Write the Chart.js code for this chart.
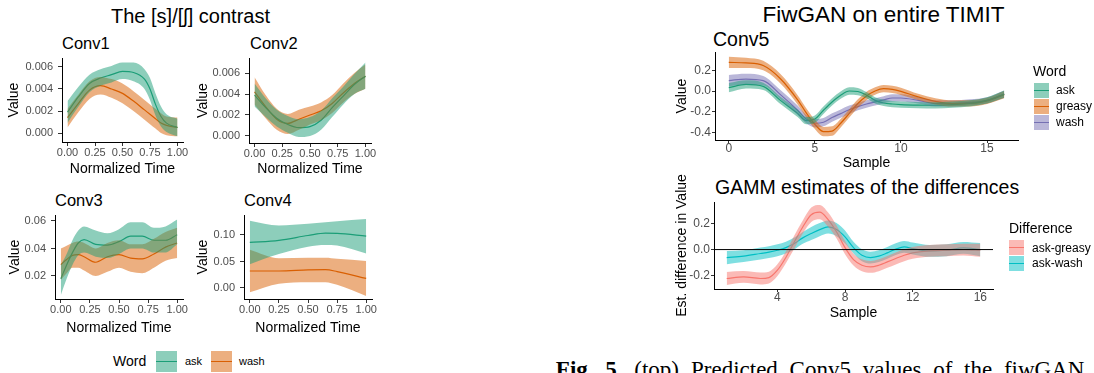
<!DOCTYPE html>
<html>
<head>
<meta charset="utf-8">
<title>Conv layer values</title>
<script src="https://cdn.jsdelivr.net/npm/chart.js@4.4.1/dist/chart.umd.min.js"></script>
<style>
  html, body { margin: 0; padding: 0; background: #fff; }
  #fig { position: relative; width: 1094px; height: 373px; overflow: hidden;
         font-family: "Liberation Sans", Arial, sans-serif; }
  .txt { position: absolute; white-space: nowrap; line-height: 1; color: #000; }
  .key { position: absolute; }
  .key i { position: absolute; left: 0; right: 0; top: 50%; height: 1.5px; margin-top: -0.75px; }
  canvas { position: absolute; }
  .cap { position: absolute; white-space: nowrap; line-height: 1; color: #000;
         font-family: "Liberation Serif", "Times New Roman", serif; font-size: 23px; word-spacing: 6px; }
</style>
</head>
<body>
<div id="fig"></div>
<script>
const FONT = '"Liberation Sans", Arial, sans-serif';
const GREEN = '#1B9E77', ORANGE = '#D95F02', PURPLE = '#7570B3';
const RED = '#F8766D', CYAN = '#00BFC4';

// ---- values ----
const unitTicks = [0, 0.25, 0.5, 0.75, 1];

const conv1Time = [0, 0.1, 0.2, 0.3, 0.4, 0.5, 0.6, 0.7, 0.75, 0.8, 0.85, 0.9, 1];
const conv1AskMean = [0.0019, 0.0033, 0.0045, 0.0050, 0.0053, 0.0056, 0.0055, 0.0049, 0.0040, 0.0026, 0.0015, 0.0009, 0.0005];
const conv1AskLo = [0.0009, 0.0024, 0.0037, 0.0043, 0.0046, 0.0049, 0.0047, 0.0040, 0.0030, 0.0016, 0.0006, 0.0001, -0.0003];
const conv1AskHi = [0.0029, 0.0042, 0.0053, 0.0058, 0.0061, 0.0064, 0.0064, 0.0058, 0.0050, 0.0036, 0.0024, 0.0017, 0.0013];
const conv1WashMean = [0.0014, 0.0027, 0.0039, 0.0043, 0.0040, 0.0036, 0.0029, 0.0021, 0.0017, 0.0013, 0.0009, 0.0007, 0.0005];
const conv1WashLo = [0.0005, 0.0019, 0.0031, 0.0035, 0.0032, 0.0027, 0.0020, 0.0012, 0.0008, 0.0004, 0.0000, -0.0002, -0.0003];
const conv1WashHi = [0.0022, 0.0035, 0.0047, 0.0051, 0.0049, 0.0045, 0.0038, 0.0030, 0.0026, 0.0022, 0.0018, 0.0015, 0.0014];
const conv1YTicks = [0, 0.002, 0.004, 0.006];

const conv2Time = [0, 0.1, 0.2, 0.3, 0.4, 0.5, 0.6, 0.7, 0.8, 0.9, 1];
const conv2AskMean = [0.0039, 0.0027, 0.0017, 0.0011, 0.0008, 0.0009, 0.0015, 0.0027, 0.0038, 0.0049, 0.0057];
const conv2AskLo = [0.0028, 0.0018, 0.0009, 0.0003, -0.0001, 0.0000, 0.0006, 0.0018, 0.0030, 0.0040, 0.0045];
const conv2AskHi = [0.0050, 0.0036, 0.0025, 0.0019, 0.0016, 0.0018, 0.0024, 0.0036, 0.0047, 0.0059, 0.0070];
const conv2WashMean = [0.0042, 0.0028, 0.0016, 0.0012, 0.0016, 0.0020, 0.0024, 0.0031, 0.0041, 0.0050, 0.0057];
const conv2WashLo = [0.0030, 0.0017, 0.0006, 0.0002, 0.0006, 0.0011, 0.0015, 0.0022, 0.0032, 0.0040, 0.0045];
const conv2WashHi = [0.0056, 0.0039, 0.0026, 0.0021, 0.0025, 0.0028, 0.0032, 0.0039, 0.0050, 0.0060, 0.0068];
const conv2YTicks = [0, 0.002, 0.004, 0.006];

const conv3Time = [0, 0.05, 0.1, 0.15, 0.2, 0.3, 0.4, 0.5, 0.6, 0.7, 0.8, 0.9, 1];
const conv3AskMean = [0.018, 0.028, 0.037, 0.044, 0.0465, 0.043, 0.0425, 0.045, 0.049, 0.049, 0.046, 0.046, 0.050];
const conv3AskLo = [0.006, 0.018, 0.028, 0.035, 0.037, 0.034, 0.033, 0.036, 0.040, 0.040, 0.037, 0.037, 0.043];
const conv3AskHi = [0.028, 0.036, 0.046, 0.053, 0.056, 0.053, 0.051, 0.054, 0.059, 0.059, 0.055, 0.056, 0.061];
const conv3WashMean = [0.0283, 0.032, 0.035, 0.0355, 0.034, 0.030, 0.034, 0.0355, 0.033, 0.0325, 0.036, 0.041, 0.044];
const conv3WashLo = [0.017, 0.022, 0.026, 0.026, 0.024, 0.020, 0.023, 0.026, 0.023, 0.022, 0.026, 0.031, 0.033];
const conv3WashHi = [0.040, 0.042, 0.044, 0.045, 0.044, 0.040, 0.044, 0.046, 0.043, 0.043, 0.047, 0.052, 0.055];
const conv3YTicks = [0.02, 0.04, 0.06];

const conv4Time = [0, 0.25, 0.5, 0.65, 0.75, 1];
const conv4AskMean = [0.086, 0.090, 0.099, 0.1035, 0.103, 0.098];
const conv4AskLo = [0.045, 0.064, 0.078, 0.081, 0.080, 0.065];
const conv4AskHi = [0.127, 0.118, 0.121, 0.124, 0.126, 0.130];
const conv4WashMean = [0.032, 0.032, 0.034, 0.0345, 0.031, 0.018];
const conv4WashLo = [-0.008, 0.008, 0.011, 0.011, 0.006, -0.015];
const conv4WashHi = [0.072, 0.056, 0.057, 0.057, 0.055, 0.051];
const conv4YTicks = [0, 0.05, 0.10];

const conv5Sample = [0, 1, 2, 3, 4, 4.5, 5, 5.5, 6, 6.5, 7, 7.5, 8, 8.5, 9, 9.5, 10, 11, 12, 13, 14, 15, 16];
const conv5AskMean = [0.032, 0.064, 0.045, -0.09, -0.215, -0.285, -0.27, -0.185, -0.105, -0.04, 0.0, -0.005, -0.04, -0.09, -0.115, -0.125, -0.13, -0.135, -0.137, -0.13, -0.12, -0.09, -0.03];
const conv5AskCi = [0.045, 0.04, 0.035, 0.035, 0.035, 0.035, 0.035, 0.035, 0.035, 0.035, 0.035, 0.035, 0.03, 0.03, 0.03, 0.03, 0.03, 0.03, 0.03, 0.03, 0.03, 0.03, 0.035];
const conv5GreasyMean = [0.275, 0.27, 0.245, 0.118, -0.085, -0.21, -0.32, -0.39, -0.385, -0.31, -0.215, -0.12, -0.048, 0.0, 0.022, 0.016, -0.003, -0.057, -0.099, -0.12, -0.12, -0.096, -0.035];
const conv5GreasyCi = [0.055, 0.05, 0.045, 0.045, 0.045, 0.045, 0.045, 0.045, 0.045, 0.04, 0.04, 0.04, 0.04, 0.035, 0.035, 0.035, 0.035, 0.03, 0.03, 0.03, 0.03, 0.03, 0.035];
const conv5WashMean = [0.10, 0.115, 0.10, -0.035, -0.185, -0.27, -0.31, -0.30, -0.255, -0.217, -0.18, -0.15, -0.125, -0.105, -0.085, -0.067, -0.067, -0.09, -0.12, -0.12, -0.11, -0.09, -0.03];
const conv5WashCi = [0.055, 0.05, 0.045, 0.045, 0.045, 0.04, 0.04, 0.04, 0.04, 0.04, 0.04, 0.035, 0.035, 0.035, 0.035, 0.035, 0.035, 0.03, 0.03, 0.03, 0.03, 0.03, 0.035];
const conv5XTicks = [0, 5, 10, 15];
const conv5YTicks = [-0.4, -0.2, 0, 0.2];

const gammSample = [1, 2, 3, 3.5, 4, 4.5, 5, 5.5, 6, 6.5, 7, 7.5, 8, 8.5, 9, 9.5, 10, 10.5, 11, 11.5, 12, 13, 14, 15, 16];
const gammAskGreasyMean = [-0.22, -0.208, -0.22, -0.213, -0.157, -0.06, 0.058, 0.172, 0.265, 0.285, 0.228, 0.134, 0.015, -0.076, -0.119, -0.132, -0.119, -0.094, -0.068, -0.043, -0.025, -0.01, -0.005, 0.0, -0.005];
const gammAskGreasyCi = [0.05, 0.045, 0.045, 0.045, 0.045, 0.045, 0.05, 0.05, 0.055, 0.055, 0.055, 0.05, 0.05, 0.045, 0.045, 0.045, 0.045, 0.045, 0.045, 0.045, 0.045, 0.045, 0.045, 0.045, 0.05];
const gammAskWashMean = [-0.061, -0.05, -0.03, -0.02, -0.005, 0.015, 0.046, 0.089, 0.122, 0.152, 0.172, 0.152, 0.096, 0.015, -0.043, -0.061, -0.05, -0.025, 0.003, 0.02, 0.008, -0.01, -0.005, 0.013, 0.0];
const gammAskWashCi = [0.05, 0.045, 0.045, 0.045, 0.045, 0.045, 0.045, 0.045, 0.05, 0.05, 0.05, 0.05, 0.05, 0.045, 0.045, 0.045, 0.045, 0.045, 0.045, 0.045, 0.045, 0.045, 0.045, 0.045, 0.05];
const gammXTicks = [4, 8, 12, 16];
const gammYTicks = [-0.2, 0, 0.2];

// ---- helpers ----
const fig = document.getElementById('fig');

function rgba(hex, a) {
  const n = parseInt(hex.slice(1), 16);
  return `rgba(${n >> 16},${(n >> 8) & 255},${n & 255},${a})`;
}

function pts(xs, ys) {
  return xs.map((x, i) => ({ x, y: ys[i] }));
}

// estimate +/- confidence half-width
function band(mean, ci) {
  return { lo: mean.map((m, i) => m - ci[i]), hi: mean.map((m, i) => m + ci[i]) };
}

function addText(str, x, baseline, size, center) {
  const d = document.createElement('div');
  d.className = 'txt';
  d.textContent = str;
  d.style.fontSize = size + 'px';
  d.style.top = (baseline - 0.8465 * size) + 'px';
  d.style.left = x + 'px';
  if (center) d.style.transform = 'translateX(-50%)';
  fig.appendChild(d);
}

function addKey(x, y, w, h, color) {
  const k = document.createElement('div');
  k.className = 'key';
  Object.assign(k.style, { left: x + 'px', top: y + 'px', width: w + 'px', height: h + 'px',
                           background: rgba(color, 0.5) });
  const line = document.createElement('i');
  line.style.background = color;
  k.appendChild(line);
  fig.appendChild(k);
}

function axisOpts(o) {
  return {
    type: 'linear', min: o.min, max: o.max,
    afterBuildTicks: s => { s.ticks = o.ticks.map(v => ({ value: v })); },
    afterFit: s => { if (o.isX) s.height = o.size; else s.width = o.size; },
    ticks: {
      autoSkip: false, maxRotation: 0, padding: o.pad, color: '#4D4D4D',
      font: { family: FONT, size: o.tickSize, lineHeight: 1 },
      callback: v => o.fmt(v)
    },
    grid: { drawOnChartArea: false, drawTicks: true, tickLength: o.tl, color: '#333333', lineWidth: 1 },
    border: { display: true, color: '#000000', width: 1 },
    title: { display: true, text: o.title, color: '#000000', padding: 0,
             font: { family: FONT, size: o.titleSize, lineHeight: 1 } }
  };
}

// p.area = [left, right, top, bottom] of the plotting area in page pixels
function panel(p) {
  const [L, R, T, B] = p.area;
  const padTop = p.padTop || 12, padR = 16;
  const left = Math.round(p.yTitleX - p.titleSize / 2);
  const top = T - padTop;
  const bottom = Math.round(p.xTitleY + p.titleSize / 2);
  const w = R - left + padR, h = bottom - top;

  const cv = document.createElement('canvas');
  cv.width = w; cv.height = h;
  Object.assign(cv.style, { left: left + 'px', top: top + 'px', width: w + 'px', height: h + 'px' });
  fig.appendChild(cv);

  const datasets = [];
  if (p.hline !== undefined) {
    datasets.push({ data: [{ x: p.xMin, y: p.hline }, { x: p.xMax, y: p.hline }],
                    borderColor: '#000', borderWidth: 1, pointRadius: 0, fill: false });
  }
  p.series.forEach(s => {
    datasets.push(
      { data: pts(p.x, s.hi), fill: '+1', backgroundColor: rgba(s.color, 0.5),
        borderColor: 'rgba(0,0,0,0)', borderWidth: 0, pointRadius: 0, cubicInterpolationMode: 'monotone' },
      { data: pts(p.x, s.lo), fill: false,
        borderColor: 'rgba(0,0,0,0)', borderWidth: 0, pointRadius: 0, cubicInterpolationMode: 'monotone' }
    );
  });
  // lines sit under the ribbons, as in the original
  p.series.forEach(s => {
    datasets.push({ data: pts(p.x, s.mean), borderColor: s.color, borderWidth: 1.2, pointRadius: 0,
                    fill: false, cubicInterpolationMode: 'monotone' });
  });

  new Chart(cv, {
    type: 'line',
    data: { datasets },
    options: {
      responsive: false, animation: false, events: [],
      layout: { padding: { top: padTop, right: padR, left: 0, bottom: 0 } },
      plugins: { legend: { display: false }, tooltip: { enabled: false } },
      scales: {
        x: axisOpts({ isX: true, min: p.xMin, max: p.xMax, ticks: p.xTicks, fmt: p.xFmt,
                      size: bottom - B, pad: p.xPad, tl: p.tl, tickSize: p.tickSize,
                      title: p.xTitle, titleSize: p.titleSize }),
        y: axisOpts({ isX: false, min: p.yMin, max: p.yMax, ticks: p.yTicks, fmt: p.yFmt,
                      size: L - left, pad: p.yPad, tl: p.tl, tickSize: p.tickSize,
                      title: p.yTitle, titleSize: p.titleSize })
      }
    }
  });
}

const f2 = v => v.toFixed(2), f3 = v => v.toFixed(3), f1 = v => v.toFixed(1), f0 = v => String(v);
const leftStyle = { xMin: -0.05, xMax: 1.05, xTicks: unitTicks, xFmt: f2, tickSize: 11, titleSize: 14,
                    tl: 4, xPad: 1, yPad: 5, xTitle: 'Normalized Time', yTitle: 'Value' };
const rightStyle = { tickSize: 12, titleSize: 14, tl: 3, xPad: 0, yPad: 1, xTitle: 'Sample' };

// ---- left figure ----
addText('The [s]/[\u0283] contrast', 190.5, 23, 20, true);
addText('Conv1', 62, 49, 16.5);
addText('Conv2', 250, 49, 16.5);
addText('Conv3', 55, 206, 16.5);
addText('Conv4', 244, 206, 16.5);

panel(Object.assign({}, leftStyle, {
  area: [62, 183, 58, 142], yTitleX: 14, xTitleY: 169,
  yMin: -0.000818, yMax: 0.006818, yTicks: conv1YTicks, yFmt: f3, x: conv1Time,
  series: [
    { mean: conv1AskMean, lo: conv1AskLo, hi: conv1AskHi, color: GREEN },
    { mean: conv1WashMean, lo: conv1WashLo, hi: conv1WashHi, color: ORANGE }
  ]
}));

panel(Object.assign({}, leftStyle, {
  area: [249, 371, 58, 143], yTitleX: 203, xTitleY: 169,
  yMin: -0.000667, yMax: 0.007429, yTicks: conv2YTicks, yFmt: f3, x: conv2Time,
  series: [
    { mean: conv2AskMean, lo: conv2AskLo, hi: conv2AskHi, color: GREEN },
    { mean: conv2WashMean, lo: conv2WashLo, hi: conv2WashHi, color: ORANGE }
  ]
}));

panel(Object.assign({}, leftStyle, {
  area: [55, 183, 215, 299], yTitleX: 15, xTitleY: 327.5,
  yMin: 0.00327, yMax: 0.06436, yTicks: conv3YTicks, yFmt: f2, x: conv3Time,
  series: [
    { mean: conv3AskMean, lo: conv3AskLo, hi: conv3AskHi, color: GREEN },
    { mean: conv3WashMean, lo: conv3WashLo, hi: conv3WashHi, color: ORANGE }
  ]
}));

panel(Object.assign({}, leftStyle, {
  area: [244, 372, 215, 299], yTitleX: 202.5, xTitleY: 327.5,
  yMin: -0.0208, yMax: 0.1377, yTicks: conv4YTicks, yFmt: f2, x: conv4Time,
  series: [
    { mean: conv4AskMean, lo: conv4AskLo, hi: conv4AskHi, color: GREEN },
    { mean: conv4WashMean, lo: conv4WashLo, hi: conv4WashHi, color: ORANGE }
  ]
}));

addText('Word', 113, 366, 14);
addKey(156, 351, 21, 21, GREEN);
addText('ask', 185, 365, 11);
addKey(211, 351, 21, 21, ORANGE);
addText('wash', 239, 365, 11);

// ---- right figure ----
addText('FiwGAN on entire TIMIT', 883.5, 23, 22.5, true);
addText('Conv5', 713, 47, 19.5);
addText('GAMM estimates of the differences', 715, 195, 19.5);

panel(Object.assign({}, rightStyle, {
  area: [715, 1018, 52, 140], yTitleX: 682, xTitleY: 163, yTitle: 'Value',
  xMin: -0.8, xMax: 16.8, xTicks: conv5XTicks, xFmt: f0,
  yMin: -0.471, yMax: 0.375, yTicks: conv5YTicks, yFmt: f1, x: conv5Sample,
  series: [
    Object.assign({ mean: conv5AskMean, color: GREEN }, band(conv5AskMean, conv5AskCi)),
    Object.assign({ mean: conv5GreasyMean, color: ORANGE }, band(conv5GreasyMean, conv5GreasyCi)),
    Object.assign({ mean: conv5WashMean, color: PURPLE }, band(conv5WashMean, conv5WashCi))
  ]
}));

panel(Object.assign({}, rightStyle, {
  area: [714, 993, 202, 289], yTitleX: 682, xTitleY: 312.5, yTitle: 'Est. difference in Value',
  padTop: 48,
  xMin: 0.25, xMax: 16.75, xTicks: gammXTicks, xFmt: f0, hline: 0,
  yMin: -0.30, yMax: 0.362, yTicks: gammYTicks, yFmt: f1, x: gammSample,
  series: [
    Object.assign({ mean: gammAskGreasyMean, color: RED }, band(gammAskGreasyMean, gammAskGreasyCi)),
    Object.assign({ mean: gammAskWashMean, color: CYAN }, band(gammAskWashMean, gammAskWashCi))
  ]
}));

addText('Word', 1033, 76, 14);
addKey(1034, 83, 15, 15, GREEN);
addText('ask', 1056, 94.5, 12);
addKey(1034, 99, 15, 15, ORANGE);
addText('greasy', 1056, 110.5, 12);
addKey(1034, 115, 15, 15, PURPLE);
addText('wash', 1056, 126.5, 12);

addText('Difference', 1009, 232.5, 14);
addKey(1009, 240, 15, 15, RED);
addText('ask-greasy', 1032, 252, 12);
addKey(1009, 256, 15, 15, CYAN);
addText('ask-wash', 1032, 267.5, 12);

// caption, cut by the bottom edge
const cap1 = document.createElement('div');
cap1.className = 'cap';
cap1.style.left = '691px';
cap1.style.top = (377 - 0.8375 * 23) + 'px';
cap1.textContent = 'Predicted Conv5 values of the fiwGAN model trained on the entire TIMIT';
fig.appendChild(cap1);
const cap0 = document.createElement('div');
cap0.className = 'cap';
cap0.style.right = (1094 - 679) + 'px';
cap0.style.top = (377 - 0.8375 * 23) + 'px';
cap0.innerHTML = '<b>Fig. 5.</b> (top)';
fig.appendChild(cap0);
</script>
</body>
</html>
